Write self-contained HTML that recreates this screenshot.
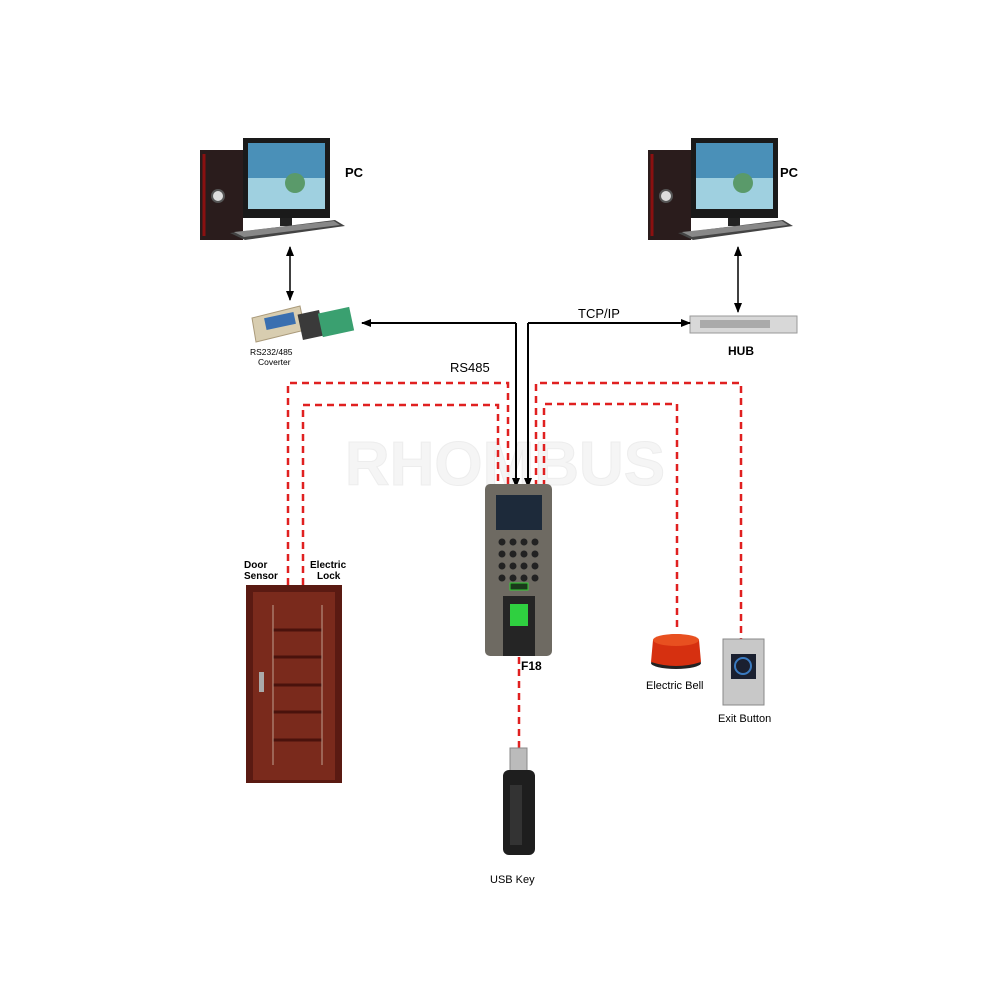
<!DOCTYPE html>
<html><head><meta charset="utf-8"><style>
html,body{margin:0;padding:0;background:#fff;width:1000px;height:1000px;overflow:hidden}
text{font-family:"Liberation Sans",Arial,sans-serif}
</style></head><body>
<svg width="1000" height="1000" viewBox="0 0 1000 1000" xmlns="http://www.w3.org/2000/svg">
<defs>
<marker id="ah" markerWidth="10" markerHeight="8" refX="9" refY="4" orient="auto" markerUnits="userSpaceOnUse"><path d="M0,0 L10,4 L0,8 Z" fill="#000"/></marker>
<marker id="ahs" markerWidth="10" markerHeight="8" refX="1" refY="4" orient="auto" markerUnits="userSpaceOnUse"><path d="M10,0 L0,4 L10,8 Z" fill="#000"/></marker>
<g id="pc">
<rect x="0" y="12" width="43" height="90" fill="#2a1c1c"/>
<path d="M4,16 L4,98" stroke="#8b1010" stroke-width="3"/>
<circle cx="18" cy="58" r="6" fill="#ddd" stroke="#555" stroke-width="2"/>
<rect x="43" y="0" width="87" height="80" fill="#1a1a1a"/>
<rect x="48" y="5" width="77" height="66" fill="#4a90b8"/>
<rect x="48" y="40" width="77" height="31" fill="#9fd0e0"/>
<circle cx="95" cy="45" r="10" fill="#5a9a6a"/>
<rect x="80" y="80" width="12" height="8" fill="#222"/>
<path d="M30,95 L135,82 L145,88 L45,102 Z" fill="#444"/>
<path d="M34,94 L134,83 L140,87 L44,99 Z" fill="#888"/>
</g>
</defs>
<text x="505" y="485" font-size="62" font-weight="bold" fill="#f5f5f5" text-anchor="middle" stroke="#ededed" stroke-width="1">RHOMBUS</text>

<use href="#pc" x="200" y="138"/>
<use href="#pc" x="648" y="138"/>
<text x="345" y="177" font-size="13" font-weight="bold">PC</text>
<text x="780" y="177" font-size="13" font-weight="bold">PC</text>

<line x1="290" y1="247" x2="290" y2="300" stroke="#000" stroke-width="1.5" marker-start="url(#ahs)" marker-end="url(#ah)"/>
<line x1="738" y1="247" x2="738" y2="312" stroke="#000" stroke-width="1.5" marker-start="url(#ahs)" marker-end="url(#ah)"/>

<path d="M252,318 L300,306 L305,330 L256,342 Z" fill="#d8cdb0" stroke="#aa9a7a"/>
<rect x="265" y="315" width="30" height="12" fill="#3a6fb0" transform="rotate(-12 280 321)"/>
<rect x="300" y="312" width="22" height="26" fill="#3a3a3a" transform="rotate(-12 311 325)"/>
<rect x="320" y="310" width="32" height="24" fill="#3aa070" transform="rotate(-12 336 322)"/>
<text x="250" y="355" font-size="8.5">RS232/485</text>
<text x="258" y="365" font-size="8.5">Coverter</text>

<rect x="690" y="316" width="107" height="17" fill="#d8d8d8" stroke="#999"/>
<rect x="700" y="320" width="70" height="8" fill="#aaa"/>
<text x="728" y="355" font-size="12" font-weight="bold">HUB</text>

<polyline points="516,323 362,323" fill="none" stroke="#000" stroke-width="2" marker-end="url(#ah)"/>
<polyline points="528,323 690,323" fill="none" stroke="#000" stroke-width="2" marker-end="url(#ah)"/>
<line x1="516" y1="323" x2="516" y2="487" stroke="#000" stroke-width="2" marker-end="url(#ah)"/>
<line x1="528" y1="323" x2="528" y2="487" stroke="#000" stroke-width="2" marker-end="url(#ah)"/>
<text x="450" y="372" font-size="13">RS485</text>
<text x="578" y="318" font-size="13">TCP/IP</text>

<g fill="none" stroke="#e02020" stroke-width="2.5" stroke-dasharray="7,5">
<polyline points="288,585 288,383 508,383 508,487"/>
<polyline points="303,585 303,405 498,405 498,487"/>
<polyline points="536,487 536,383 741,383 741,640"/>
<polyline points="544,487 544,404 677,404 677,632"/>
<polyline points="519,657 519,750"/>
</g>

<rect x="485" y="484" width="67" height="172" rx="5" fill="#6e6a62"/>
<rect x="496" y="495" width="46" height="35" fill="#1d2a3a"/>
<g fill="#222">
<circle cx="502" cy="542" r="3.5"/><circle cx="513" cy="542" r="3.5"/><circle cx="524" cy="542" r="3.5"/><circle cx="535" cy="542" r="3.5"/>
<circle cx="502" cy="554" r="3.5"/><circle cx="513" cy="554" r="3.5"/><circle cx="524" cy="554" r="3.5"/><circle cx="535" cy="554" r="3.5"/>
<circle cx="502" cy="566" r="3.5"/><circle cx="513" cy="566" r="3.5"/><circle cx="524" cy="566" r="3.5"/><circle cx="535" cy="566" r="3.5"/>
<circle cx="502" cy="578" r="3.5"/><circle cx="513" cy="578" r="3.5"/><circle cx="524" cy="578" r="3.5"/><circle cx="535" cy="578" r="3.5"/>
</g>
<rect x="510" y="583" width="18" height="7" fill="#1a3a1a" stroke="#3c3"/>
<rect x="503" y="596" width="32" height="60" fill="#252525"/>
<rect x="510" y="604" width="18" height="22" fill="#2fd040"/>
<text x="521" y="670" font-size="12" font-weight="bold">F18</text>

<rect x="246" y="585" width="96" height="198" fill="#5a1a12"/>
<rect x="253" y="592" width="82" height="188" fill="#7a2a1c"/>
<g stroke="#4a120c" stroke-width="3"><line x1="273" y1="630" x2="322" y2="630"/><line x1="273" y1="657" x2="322" y2="657"/><line x1="273" y1="685" x2="322" y2="685"/><line x1="273" y1="712" x2="322" y2="712"/><line x1="273" y1="740" x2="322" y2="740"/></g>
<g stroke="#c0a090" stroke-width="1"><line x1="273" y1="605" x2="273" y2="765"/><line x1="322" y1="605" x2="322" y2="765"/></g>
<rect x="259" y="672" width="5" height="20" fill="#aaa"/>
<text x="244" y="568" font-size="10" font-weight="bold">Door</text>
<text x="244" y="579" font-size="10" font-weight="bold">Sensor</text>
<text x="310" y="568" font-size="10" font-weight="bold">Electric</text>
<text x="317" y="579" font-size="10" font-weight="bold">Lock</text>

<rect x="510" y="748" width="17" height="24" fill="#bbb" stroke="#888"/>
<rect x="503" y="770" width="32" height="85" rx="6" fill="#1e1e1e"/>
<rect x="510" y="785" width="12" height="60" fill="#333"/>
<text x="490" y="883" font-size="11">USB Key</text>

<ellipse cx="676" cy="663" rx="25" ry="6" fill="#222"/>
<path d="M653,640 Q676,628 699,640 L701,662 Q676,670 651,662 Z" fill="#d63010"/>
<ellipse cx="676" cy="640" rx="23" ry="6" fill="#e85020"/>
<text x="646" y="689" font-size="11">Electric Bell</text>

<rect x="723" y="639" width="41" height="66" fill="#c8c8c8" stroke="#888"/>
<rect x="731" y="654" width="25" height="25" fill="#1a2030"/>
<circle cx="743" cy="666" r="8" fill="none" stroke="#3a7ac0" stroke-width="2"/>
<text x="718" y="722" font-size="11">Exit Button</text>
</svg>
</body></html>
